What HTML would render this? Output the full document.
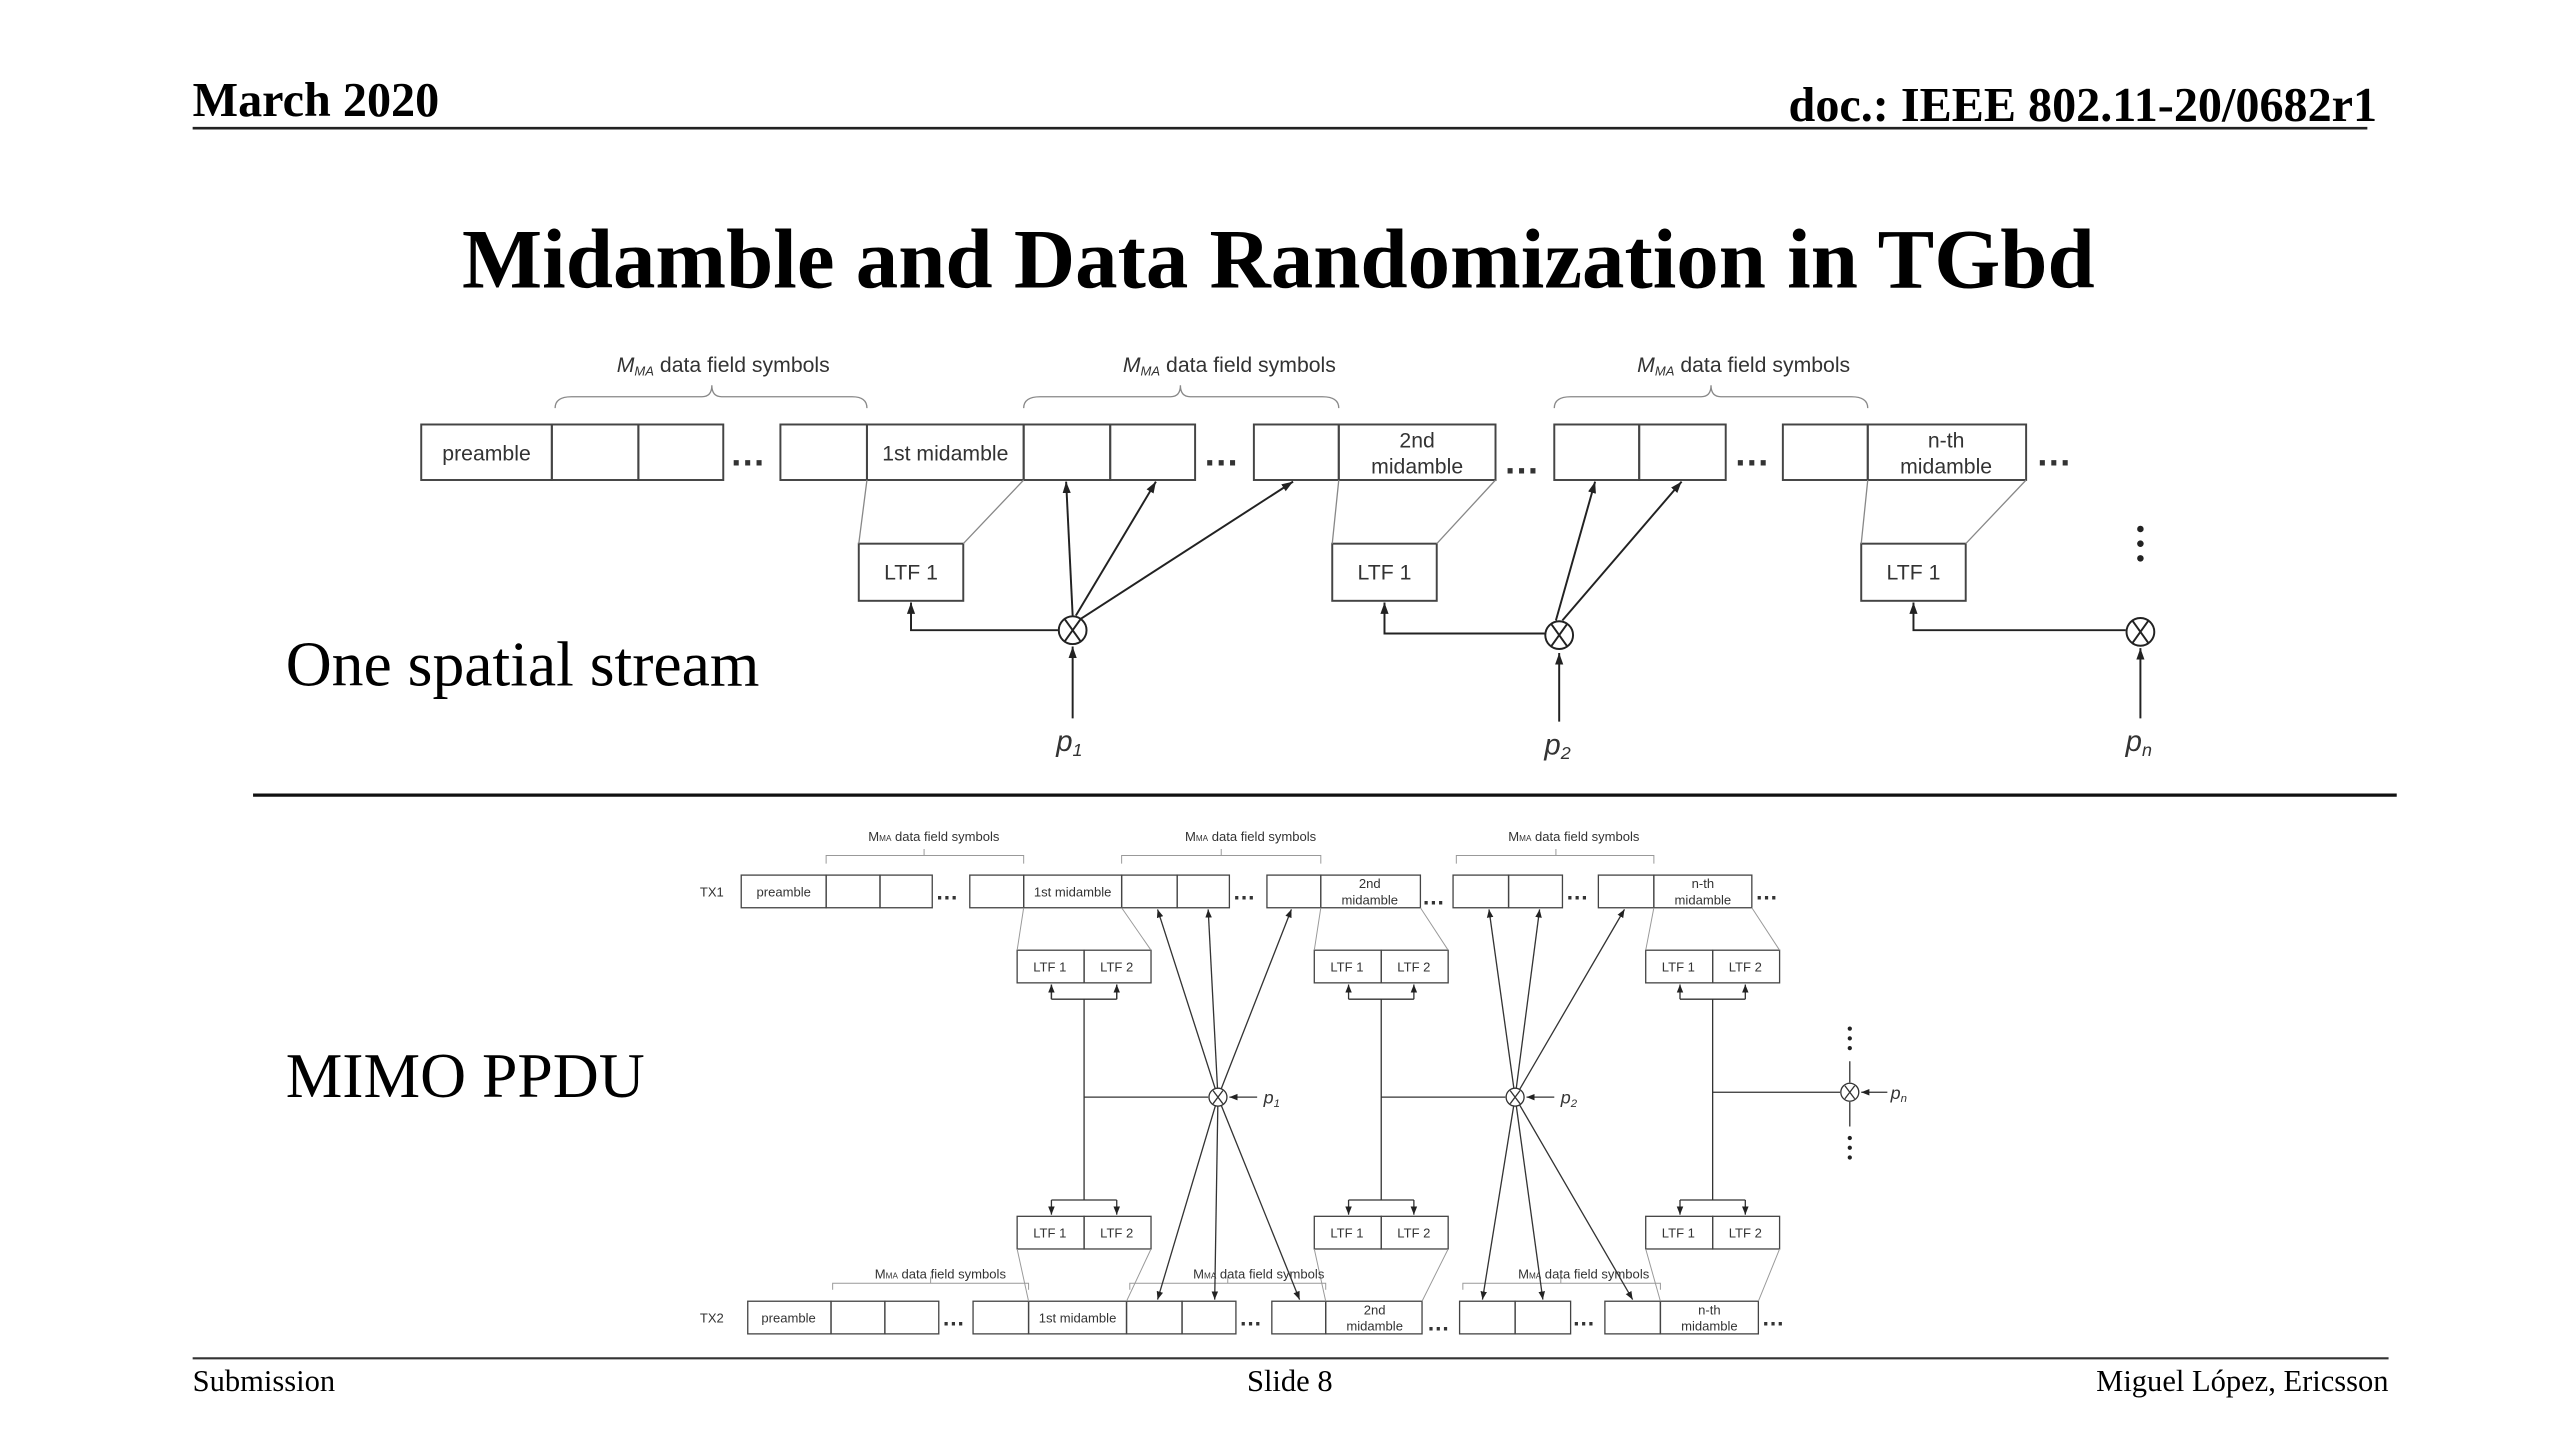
<!DOCTYPE html>
<html><head><meta charset="utf-8"><style>
html,body{margin:0;padding:0;background:#fff;}
svg{display:block;}
.s{font-family:"Liberation Serif",serif;fill:#000;}
.d{font-family:"Liberation Sans",sans-serif;fill:#333;}
</style></head><body>
<svg width="2560" height="1440" viewBox="0 0 1568 882" xmlns="http://www.w3.org/2000/svg">
<defs>
<marker id="a" markerWidth="8" markerHeight="8" refX="7" refY="4" orient="auto" markerUnits="userSpaceOnUse"><path d="M0,1.5 L7,4 L0,6.5z" fill="#222"/></marker>
<marker id="b" markerWidth="6" markerHeight="6" refX="5" refY="3" orient="auto" markerUnits="userSpaceOnUse"><path d="M0,1 L5,3 L0,5z" fill="#222"/></marker>
</defs>
<rect width="1568" height="882" fill="#fff"/>
<!-- header -->
<text class="s" x="118" y="71" font-size="29.5" font-weight="bold">March 2020</text>
<text class="s" x="1456" y="74" font-size="29.5" font-weight="bold" text-anchor="end">doc.: IEEE 802.11-20/0682r1</text>
<line x1="118" y1="78.5" x2="1450" y2="78.5" stroke="#222" stroke-width="1.6"/>
<text class="s" x="783" y="176" font-size="52" font-weight="bold" text-anchor="middle">Midamble and Data Randomization in TGbd</text>
<text class="s" x="175" y="420" font-size="39">One spatial stream</text>
<text class="s" x="175" y="672" font-size="39">MIMO PPDU</text>
<line x1="155" y1="487" x2="1468" y2="487" stroke="#111" stroke-width="2"/>
<!-- footer -->
<line x1="118" y1="832" x2="1463" y2="832" stroke="#333" stroke-width="1.3"/>
<text class="s" x="118" y="852" font-size="18.7">Submission</text>
<text class="s" x="790" y="852" font-size="18.7" text-anchor="middle">Slide 8</text>
<text class="s" x="1463" y="852" font-size="18.7" text-anchor="end">Miguel López, Ericsson</text>

<!-- TOP DIAGRAM -->
<g fill="none" stroke="#444" stroke-width="1.2">
<rect x="258" y="260" width="80" height="34"/><rect x="338" y="260" width="53" height="34"/><rect x="391" y="260" width="52" height="34"/>
<rect x="478" y="260" width="53" height="34"/><rect x="531" y="260" width="96" height="34"/><rect x="627" y="260" width="53" height="34"/><rect x="680" y="260" width="52" height="34"/>
<rect x="768" y="260" width="52" height="34"/><rect x="820" y="260" width="96" height="34"/>
<rect x="952" y="260" width="52" height="34"/><rect x="1004" y="260" width="53" height="34"/>
<rect x="1092" y="260" width="52" height="34"/><rect x="1144" y="260" width="97" height="34"/>
<rect x="526" y="333" width="64" height="35"/><rect x="816" y="333" width="64" height="35"/><rect x="1140" y="333" width="64" height="35"/>
</g>
<g fill="none" stroke="#888" stroke-width="0.8">
<path d="M531,294 L526,333 M627,294 L590,333 M820,294 L816,333 M916,294 L880,333 M1144,294 L1140,333 M1241,294 L1204,333"/>
<path d="M340,250 Q340,243 350,243 L430,243 Q436,243 436,236 Q436,243 442,243 L522,243 Q531,243 531,250"/>
<path d="M627,250 Q627,243 637,243 L717,243 Q723,243 723,236 Q723,243 729,243 L810,243 Q820,243 820,250"/>
<path d="M952,250 Q952,243 962,243 L1042,243 Q1048,243 1048,236 Q1048,243 1054,243 L1134,243 Q1144,243 1144,250"/>
</g>
<g class="d" font-size="13" text-anchor="middle">
<text x="443" y="228"><tspan font-style="italic">M<tspan font-size="8" dy="2">MA</tspan></tspan><tspan dy="-2"> data field symbols</tspan></text>
<text x="753" y="228"><tspan font-style="italic">M<tspan font-size="8" dy="2">MA</tspan></tspan><tspan dy="-2"> data field symbols</tspan></text>
<text x="1068" y="228"><tspan font-style="italic">M<tspan font-size="8" dy="2">MA</tspan></tspan><tspan dy="-2"> data field symbols</tspan></text>
<text x="298" y="282">preamble</text>
<text x="579" y="282">1st midamble</text>
<text x="868" y="274">2nd</text><text x="868" y="290">midamble</text>
<text x="1192" y="274">n-th</text><text x="1192" y="290">midamble</text>
<text x="558" y="355">LTF 1</text><text x="848" y="355">LTF 1</text><text x="1172" y="355">LTF 1</text>
</g>
<g class="d" font-size="22" font-weight="bold" fill="#222">
<text x="447" y="285">…</text><text x="737" y="285">…</text><text x="921" y="290">…</text><text x="1062" y="285">…</text><text x="1247" y="285">…</text>
</g>
<g fill="none" stroke="#222" stroke-width="1.2">
<path d="M648,386 L558,386 L558,369" marker-end="url(#a)"/>
<path d="M946,388 L848,388 L848,369" marker-end="url(#a)"/>
<path d="M1302,386 L1172,386 L1172,369" marker-end="url(#a)"/>
<path d="M657,377 L653,295" marker-end="url(#a)"/>
<path d="M659,377 L708,295" marker-end="url(#a)"/>
<path d="M662,379 L792,295" marker-end="url(#a)"/>
<path d="M953,380 L977,295" marker-end="url(#a)"/>
<path d="M957,380 L1030,295" marker-end="url(#a)"/>
<path d="M657,440 L657,396" marker-end="url(#a)"/>
<path d="M955,442 L955,400" marker-end="url(#a)"/>
<path d="M1311,440 L1311,397" marker-end="url(#a)"/>
<circle cx="657" cy="386" r="8.5" fill="#fff"/><path d="M652,379 L662,393 M662,379 L652,393"/>
<circle cx="955" cy="389" r="8.5" fill="#fff"/><path d="M950,382 L960,396 M960,382 L950,396"/>
<circle cx="1311" cy="387" r="8.5" fill="#fff"/><path d="M1306,380 L1316,394 M1316,380 L1306,394"/>
</g>
<g fill="#222"><circle cx="1311" cy="324" r="2"/><circle cx="1311" cy="333" r="2"/><circle cx="1311" cy="342" r="2"/></g>
<g class="d" font-size="18" font-style="italic" fill="#222" text-anchor="middle">
<text x="655" y="460">p<tspan font-size="11" dy="3">1</tspan></text>
<text x="954" y="462">p<tspan font-size="11" dy="3">2</tspan></text>
<text x="1310" y="460">p<tspan font-size="11" dy="3">n</tspan></text>
</g>

<!-- MIMO -->
<g fill="none" stroke="#444" stroke-width="0.8">
<rect x="454" y="536" width="52" height="20"/><rect x="506" y="536" width="33" height="20"/><rect x="539" y="536" width="32" height="20"/>
<rect x="594" y="536" width="33" height="20"/><rect x="627" y="536" width="60" height="20"/><rect x="687" y="536" width="34" height="20"/><rect x="721" y="536" width="32" height="20"/>
<rect x="776" y="536" width="33" height="20"/><rect x="809" y="536" width="61" height="20"/>
<rect x="890" y="536" width="34" height="20"/><rect x="924" y="536" width="33" height="20"/>
<rect x="979" y="536" width="34" height="20"/><rect x="1013" y="536" width="60" height="20"/>
<rect x="458" y="797" width="51" height="20"/><rect x="509" y="797" width="33" height="20"/><rect x="542" y="797" width="33" height="20"/>
<rect x="596" y="797" width="34" height="20"/><rect x="630" y="797" width="60" height="20"/><rect x="690" y="797" width="34" height="20"/><rect x="724" y="797" width="33" height="20"/>
<rect x="779" y="797" width="33" height="20"/><rect x="812" y="797" width="59" height="20"/>
<rect x="894" y="797" width="34" height="20"/><rect x="928" y="797" width="34" height="20"/>
<rect x="983" y="797" width="34" height="20"/><rect x="1017" y="797" width="60" height="20"/>
<rect x="623" y="582" width="41" height="20"/><rect x="664" y="582" width="41" height="20"/>
<rect x="805" y="582" width="41" height="20"/><rect x="846" y="582" width="41" height="20"/>
<rect x="1008" y="582" width="41" height="20"/><rect x="1049" y="582" width="41" height="20"/>
<rect x="623" y="745" width="41" height="20"/><rect x="664" y="745" width="41" height="20"/>
<rect x="805" y="745" width="41" height="20"/><rect x="846" y="745" width="41" height="20"/>
<rect x="1008" y="745" width="41" height="20"/><rect x="1049" y="745" width="41" height="20"/>
</g>
<g fill="none" stroke="#999" stroke-width="0.6">
<path d="M627,556 L623,582 M687,556 L705,582 M809,556 L805,582 M870,556 L887,582 M1013,556 L1008,582 M1073,556 L1090,582"/>
<path d="M623,765 L630,797 M705,765 L690,797 M805,765 L812,797 M887,765 L871,797 M1008,765 L1017,797 M1090,765 L1077,797"/>
<path d="M506,529 L506,524 L627,524 L627,529 M566,524 L566,520"/>
<path d="M687,529 L687,524 L809,524 L809,529 M748,524 L748,520"/>
<path d="M892,529 L892,524 L1013,524 L1013,529 M953,524 L953,520"/>
<path d="M510,790 L510,786 L630,786 L630,790 M570,786 L570,782"/>
<path d="M692,790 L692,786 L812,786 L812,790 M752,786 L752,782"/>
<path d="M896,790 L896,786 L1017,786 L1017,790 M956,786 L956,782"/>
</g>
<g class="d" font-size="8" text-anchor="middle">
<text x="572" y="515">M<tspan font-size="5">MA</tspan> data field symbols</text>
<text x="766" y="515">M<tspan font-size="5">MA</tspan> data field symbols</text>
<text x="964" y="515">M<tspan font-size="5">MA</tspan> data field symbols</text>
<text x="576" y="783">M<tspan font-size="5">MA</tspan> data field symbols</text>
<text x="771" y="783">M<tspan font-size="5">MA</tspan> data field symbols</text>
<text x="970" y="783">M<tspan font-size="5">MA</tspan> data field symbols</text>
<text x="436" y="549">TX1</text><text x="436" y="810">TX2</text>
<text x="480" y="549">preamble</text><text x="657" y="549">1st midamble</text>
<text x="839" y="544">2nd</text><text x="839" y="554">midamble</text>
<text x="1043" y="544">n-th</text><text x="1043" y="554">midamble</text>
<text x="483" y="810">preamble</text><text x="660" y="810">1st midamble</text>
<text x="842" y="805">2nd</text><text x="842" y="815">midamble</text>
<text x="1047" y="805">n-th</text><text x="1047" y="815">midamble</text>
<text x="643" y="595">LTF 1</text><text x="684" y="595">LTF 2</text>
<text x="825" y="595">LTF 1</text><text x="866" y="595">LTF 2</text>
<text x="1028" y="595">LTF 1</text><text x="1069" y="595">LTF 2</text>
<text x="643" y="758">LTF 1</text><text x="684" y="758">LTF 2</text>
<text x="825" y="758">LTF 1</text><text x="866" y="758">LTF 2</text>
<text x="1028" y="758">LTF 1</text><text x="1069" y="758">LTF 2</text>
</g>
<g class="d" font-size="14" font-weight="bold" fill="#222">
<text x="573" y="551">…</text><text x="755" y="551">…</text><text x="871" y="554">…</text><text x="959" y="551">…</text><text x="1075" y="551">…</text>
<text x="577" y="812">…</text><text x="759" y="812">…</text><text x="874" y="815">…</text><text x="963" y="812">…</text><text x="1079" y="812">…</text>
</g>
<g fill="none" stroke="#333" stroke-width="0.8">
<path d="M664,612 L664,735 M644,612 L684,612 M644,612 L644,603 M684,612 L684,603"/>
<path d="M846,612 L846,735 M826,612 L866,612"/>
<path d="M1049,612 L1049,735 M1029,612 L1069,612"/>
<path d="M644,735 L684,735 M826,735 L866,735 M1029,735 L1069,735"/>
<path d="M644,612 L644,603" marker-end="url(#b)"/><path d="M684,612 L684,603" marker-end="url(#b)"/>
<path d="M826,612 L826,603" marker-end="url(#b)"/><path d="M866,612 L866,603" marker-end="url(#b)"/>
<path d="M1029,612 L1029,603" marker-end="url(#b)"/><path d="M1069,612 L1069,603" marker-end="url(#b)"/>
<path d="M644,735 L644,744" marker-end="url(#b)"/><path d="M684,735 L684,744" marker-end="url(#b)"/>
<path d="M826,735 L826,744" marker-end="url(#b)"/><path d="M866,735 L866,744" marker-end="url(#b)"/>
<path d="M1029,735 L1029,744" marker-end="url(#b)"/><path d="M1069,735 L1069,744" marker-end="url(#b)"/>
<path d="M664,672 L740,672 M846,672 L922,672 M1049,669 L1127,669"/>
<path d="M1133,650 L1133,663 M1133,675 L1133,690"/>
<path d="M746,672 L709,557" marker-end="url(#b)"/><path d="M746,672 L740,557" marker-end="url(#b)"/><path d="M746,672 L791,557" marker-end="url(#b)"/>
<path d="M746,672 L709,796" marker-end="url(#b)"/><path d="M746,672 L744,796" marker-end="url(#b)"/><path d="M746,672 L796,796" marker-end="url(#b)"/>
<path d="M928,672 L912,557" marker-end="url(#b)"/><path d="M928,672 L943,557" marker-end="url(#b)"/><path d="M928,672 L995,557" marker-end="url(#b)"/>
<path d="M928,672 L908,796" marker-end="url(#b)"/><path d="M928,672 L945,796" marker-end="url(#b)"/><path d="M928,672 L1000,796" marker-end="url(#b)"/>
<path d="M770,672 L753,672" marker-end="url(#b)"/><path d="M952,672 L935,672" marker-end="url(#b)"/><path d="M1156,669 L1140,669" marker-end="url(#b)"/>
<circle cx="746" cy="672" r="5.5" fill="#fff"/><path d="M743,668 L749,676 M749,668 L743,676"/>
<circle cx="928" cy="672" r="5.5" fill="#fff"/><path d="M925,668 L931,676 M931,668 L925,676"/>
<circle cx="1133" cy="669" r="5.5" fill="#fff"/><path d="M1130,665 L1136,673 M1136,665 L1130,673"/>
</g>
<g fill="#222"><circle cx="1133" cy="630" r="1.3"/><circle cx="1133" cy="636" r="1.3"/><circle cx="1133" cy="642" r="1.3"/>
<circle cx="1133" cy="697" r="1.3"/><circle cx="1133" cy="703" r="1.3"/><circle cx="1133" cy="709" r="1.3"/></g>
<g class="d" font-size="11" font-style="italic" fill="#222">
<text x="774" y="676">p<tspan font-size="7" dy="2">1</tspan></text>
<text x="956" y="676">p<tspan font-size="7" dy="2">2</tspan></text>
<text x="1158" y="673">p<tspan font-size="7" dy="2">n</tspan></text>
</g>
</svg>
</body></html>
